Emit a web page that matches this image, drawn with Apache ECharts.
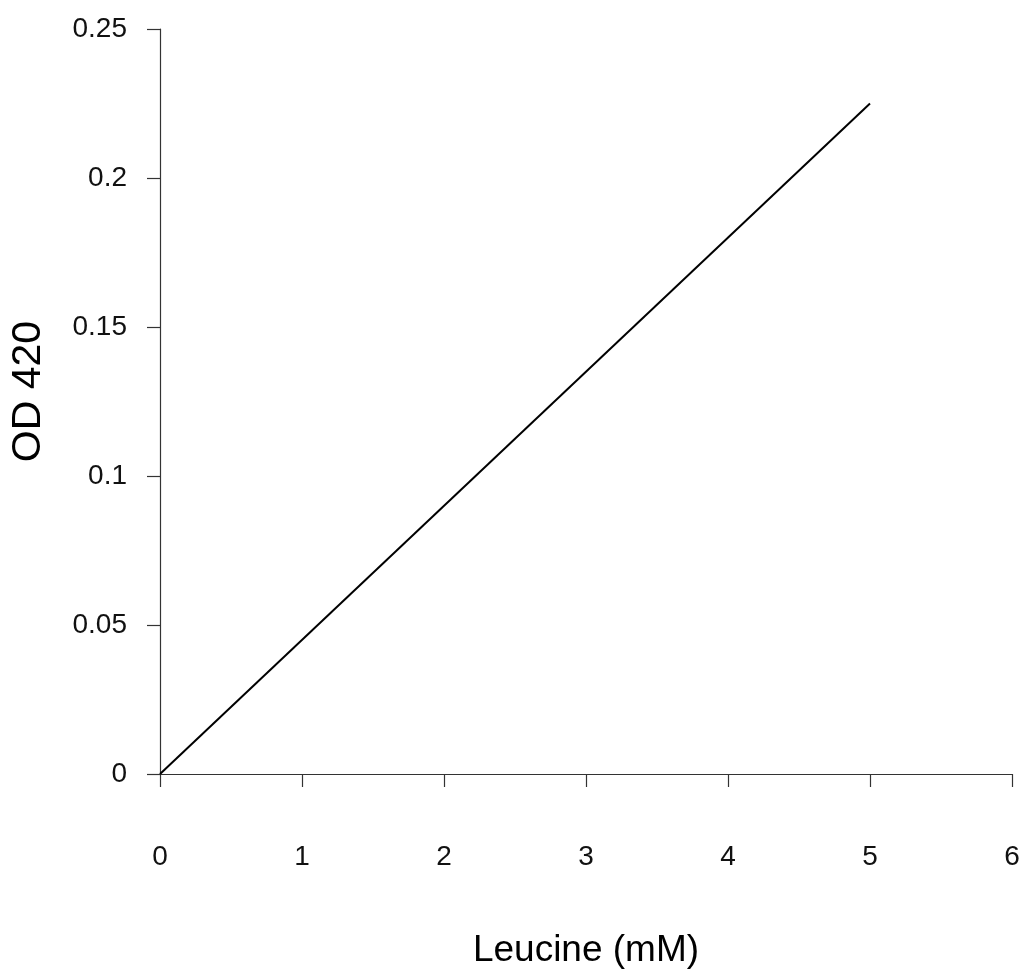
<!DOCTYPE html>
<html>
<head>
<meta charset="utf-8">
<script src="https://cdn.jsdelivr.net/npm/echarts@6/dist/echarts.min.js"></script>
<style>
  html, body { margin: 0; padding: 0; background: #fff; }
  #chart { width: 1024px; height: 976px; }
</style>
</head>
<body>
<div id="chart"></div>
<script>
// data
const leucine = [0, 5];
const od420 = [0, 0.225];
const xTicks = [0, 1, 2, 3, 4, 5, 6];
const yTicks = [0, 0.05, 0.1, 0.15, 0.2, 0.25];

const chart = echarts.init(document.getElementById('chart'));
const font = 'Liberation Sans, Arial, sans-serif';
const axisColor = '#333';

chart.setOption({
  animation: false,
  grid: { left: 160, right: 12, top: 29, bottom: 202 },
  xAxis: {
    type: 'value',
    min: xTicks[0],
    max: xTicks[xTicks.length - 1],
    interval: 1,
    name: 'Leucine (mM)',
    nameLocation: 'middle',
    nameGap: 158,
    nameTextStyle: { fontFamily: font, fontSize: 37, color: '#000' },
    axisLine: { onZero: false, lineStyle: { color: axisColor, width: 1.2 } },
    axisTick: { show: true, length: 13, lineStyle: { color: axisColor, width: 1.2 } },
    axisLabel: { margin: 69, fontFamily: font, fontSize: 28, color: '#111' },
    splitLine: { show: false }
  },
  yAxis: {
    type: 'value',
    min: yTicks[0],
    max: yTicks[yTicks.length - 1],
    interval: 0.05,
    name: 'OD 420',
    nameLocation: 'middle',
    nameGap: 111,
    nameTextStyle: { fontFamily: font, fontSize: 41, color: '#000', padding: [0, 0, 0, 20] },
    axisLine: { show: true, onZero: false, lineStyle: { color: axisColor, width: 1.2 } },
    axisTick: { show: true, length: 13, lineStyle: { color: axisColor, width: 1.2 } },
    axisLabel: {
      margin: 33, fontFamily: font, fontSize: 28, color: '#111',
      formatter: v => String(+v.toFixed(2))
    },
    splitLine: { show: false }
  },
  series: [{
    type: 'line',
    data: leucine.map((x, i) => [x, od420[i]]),
    showSymbol: false,
    lineStyle: { color: '#000', width: 2 }
  }]
});
</script>
</body>
</html>
